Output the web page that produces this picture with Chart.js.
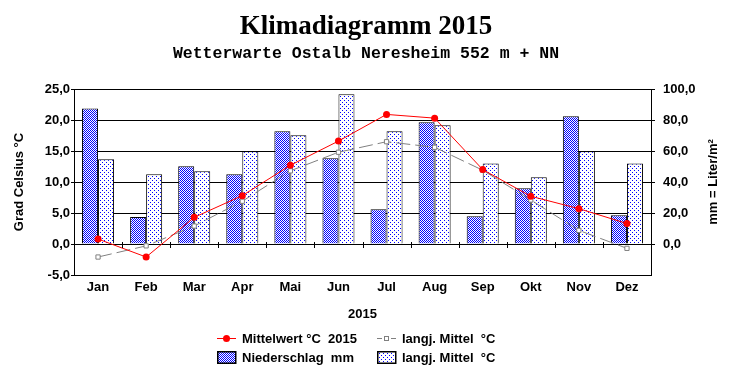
<!DOCTYPE html>
<html>
<head>
<meta charset="utf-8">
<script src="https://cdn.jsdelivr.net/npm/chart.js@4.4.0/dist/chart.umd.min.js"></script>
<style>
  body { margin: 0; background: #fff; }
  #wrap { position: relative; width: 732px; height: 380px; }
  .leg { position: absolute; font: bold 13px "Liberation Sans", Arial, sans-serif; white-space: pre; line-height: 16px; color: #000; }
  .sw { position: absolute; }
</style>
</head>
<body>
<div id="wrap">
  <canvas id="klima" width="732" height="380"></canvas>
  <div id="legend"></div>
</div>
<script>
const months = ['Jan', 'Feb', 'Mar', 'Apr', 'Mai', 'Jun', 'Jul', 'Aug', 'Sep', 'Okt', 'Nov', 'Dez'];
const tempMean2015 = [0.8, -2.1, 4.3, 7.8, 12.7, 16.6, 20.9, 20.3, 12.0, 7.7, 5.7, 3.3];
const tempNormal = [-2.1, -0.3, 2.9, 6.9, 11.8, 14.8, 16.5, 15.6, 11.9, 7.1, 2.2, -0.7];
const rain2015 = [87.5, 17.4, 50.1, 45.0, 72.7, 55.3, 22.4, 78.5, 17.9, 35.9, 82.4, 18.5];
const rainNormal = [54.6, 45.0, 46.9, 59.8, 70.1, 96.6, 72.7, 76.6, 52.0, 43.0, 59.8, 52.0];
const tempTicks = [-5, 0, 5, 10, 15, 20, 25];
const rainTicks = [0, 20, 40, 60, 80, 100];

const sansBold = { family: '"Liberation Sans", Arial, sans-serif', size: 13, weight: 'bold' };
const fmt = v => v.toFixed(1).replace('.', ',');

// fill patterns like the old excel hatches
function makeTile(size, dots) {
  const c = document.createElement('canvas');
  c.width = size; c.height = size;
  const g = c.getContext('2d');
  g.fillStyle = '#fff';
  g.fillRect(0, 0, size, size);
  g.fillStyle = '#0000ff';
  dots.forEach(d => g.fillRect(d[0], d[1], 1, 1));
  return c;
}
const checkTile = makeTile(2, [[0, 0], [1, 1]]);
const dotTile = makeTile(4, [[0, 0], [2, 2]]);
const ctx = document.getElementById('klima').getContext('2d');
const checkFill = ctx.createPattern(checkTile, 'repeat');
const dotFill = ctx.createPattern(dotTile, 'repeat');

const extras = {
  id: 'extras',
  afterDatasetsDraw(chart) {
    const { ctx, chartArea, scales: { x, y } } = chart;
    const y0 = Math.round(y.getPixelForValue(0));
    ctx.save();
    ctx.strokeStyle = '#000';
    ctx.lineWidth = 1;
    ctx.beginPath();
    for (let i = 1; i < months.length; i++) {
      const bx = Math.round((x.getPixelForValue(i - 1) + x.getPixelForValue(i)) / 2) + 0.5;
      ctx.moveTo(bx, y0 - 2);
      ctx.lineTo(bx, y0 + 4);
    }
    ctx.stroke();
    ctx.translate(713, (chartArea.top + chartArea.bottom) / 2);
    ctx.rotate(-Math.PI / 2);
    ctx.font = 'bold 13px "Liberation Sans", Arial, sans-serif';
    ctx.fillStyle = '#000';
    ctx.textAlign = 'center';
    ctx.textBaseline = 'middle';
    ctx.fillText('mm = Liter/m\u00b2', 0, 0);
    ctx.restore();
  }
};

new Chart(ctx, {
  type: 'bar',
  data: {
    labels: months,
    datasets: [
      {
        type: 'line', label: 'Mittelwert °C  2015', data: tempMean2015, yAxisID: 'y', order: 0,
        borderColor: '#ff0000', backgroundColor: '#ff0000', borderWidth: 1,
        pointRadius: 3.5, pointBorderWidth: 0, tension: 0
      },
      {
        type: 'line', label: 'langj. Mittel  °C', data: tempNormal, yAxisID: 'y', order: 1,
        borderColor: '#808080', borderWidth: 1, borderDash: [14, 5],
        pointStyle: 'rect', pointRadius: 3, pointBackgroundColor: '#fff', pointBorderColor: '#808080', pointBorderWidth: 1
      },
      {
        label: 'Niederschlag  mm', data: rain2015, yAxisID: 'y1', order: 2,
        backgroundColor: checkFill, borderColor: '#000', borderWidth: 1,
        categoryPercentage: 0.666, barPercentage: 1
      },
      {
        label: 'langj. Mittel  °C', data: rainNormal, yAxisID: 'y1', order: 3,
        backgroundColor: dotFill, borderColor: '#000', borderWidth: 1,
        categoryPercentage: 0.666, barPercentage: 1
      }
    ]
  },
  options: {
    responsive: false,
    animation: false,
    layout: { padding: { top: 0, left: 0, right: 0, bottom: 55 } },
    plugins: {
      legend: { display: false },
      tooltip: { enabled: false },
      title: {
        display: true, text: 'Klimadiagramm 2015', color: '#000',
        font: { family: '"Liberation Serif", "Times New Roman", serif', size: 27, weight: 'bold' },
        padding: { top: 11, bottom: 0 }
      },
      subtitle: {
        display: true, text: 'Wetterwarte Ostalb Neresheim 552 m + NN', color: '#000',
        font: { family: '"Liberation Mono", "Courier New", monospace', size: 16.5, weight: 'bold' },
        padding: { top: 1, bottom: 24.8 }
      }
    },
    scales: {
      x: {
        grid: { display: false, drawTicks: false, tickLength: 0 },
        border: { color: '#000', width: 1 },
        ticks: { color: '#000', font: sansBold, padding: 5 },
        title: { display: true, text: '2015', color: '#000', font: sansBold, padding: { top: 0, bottom: 3 } },
        afterFit: s => { s.height = 50; }
      },
      y: {
        position: 'left', min: -5, max: 25,
        afterBuildTicks: s => { s.ticks = tempTicks.map(v => ({ value: v })); },
        grid: { color: '#000', lineWidth: 1, tickLength: 3 },
        border: { color: '#000', width: 1 },
        ticks: { color: '#000', font: sansBold, padding: 1, callback: v => fmt(v) },
        title: { display: true, text: 'Grad Celsius °C', color: '#000', font: sansBold, padding: { top: 12, bottom: 0 } },
        afterFit: s => { s.width = 74; }
      },
      y1: {
        position: 'right', min: -20, max: 100,
        afterBuildTicks: s => { s.ticks = rainTicks.map(v => ({ value: v })); },
        grid: { drawOnChartArea: false, color: '#000', tickLength: 4 },
        border: { color: '#000', width: 1 },
        ticks: { color: '#000', font: sansBold, padding: 8, callback: v => fmt(v) },
        afterFit: s => { s.width = 81; }
      }
    }
  },
  plugins: [extras]
});

// legend in two columns like the original, swatches on small canvases
const legend = document.getElementById('legend');
const items = [
  { kind: 'line', col: 0, row: 0, text: 'Mittelwert °C  2015' },
  { kind: 'dash', col: 1, row: 0, text: 'langj. Mittel  °C' },
  { kind: 'box', fill: checkTile, col: 0, row: 1, text: 'Niederschlag  mm' },
  { kind: 'box', fill: dotTile, col: 1, row: 1, text: 'langj. Mittel  °C' }
];
const colX = [217, 377];
const rowY = [339, 358];
items.forEach(it => {
  const x = colX[it.col], y = rowY[it.row];
  const c = document.createElement('canvas');
  c.width = 20; c.height = 14;
  c.className = 'sw';
  c.style.left = x + 'px';
  c.style.top = (y - 7) + 'px';
  const g = c.getContext('2d');
  if (it.kind === 'line') {
    g.fillStyle = '#ff0000';
    g.fillRect(0, 6, 19, 1);
    g.beginPath();
    g.arc(9.5, 6.5, 3.5, 0, Math.PI * 2);
    g.fill();
  } else if (it.kind === 'dash') {
    g.fillStyle = '#808080';
    g.fillRect(0, 6, 5, 1);
    g.fillRect(14, 6, 5, 1);
    g.strokeStyle = '#808080';
    g.strokeRect(7.5, 4.5, 4, 4);
  } else {
    g.fillStyle = g.createPattern(it.fill, 'repeat');
    g.fillRect(1, 1, 18, 11);
    g.strokeStyle = '#000';
    g.lineWidth = 1.5;
    g.strokeRect(0.75, 0.75, 18, 11.5);
  }
  legend.appendChild(c);
  const t = document.createElement('div');
  t.className = 'leg';
  t.style.left = (x + 25) + 'px';
  t.style.top = (y - 8) + 'px';
  t.textContent = it.text;
  legend.appendChild(t);
});
</script>
</body>
</html>
